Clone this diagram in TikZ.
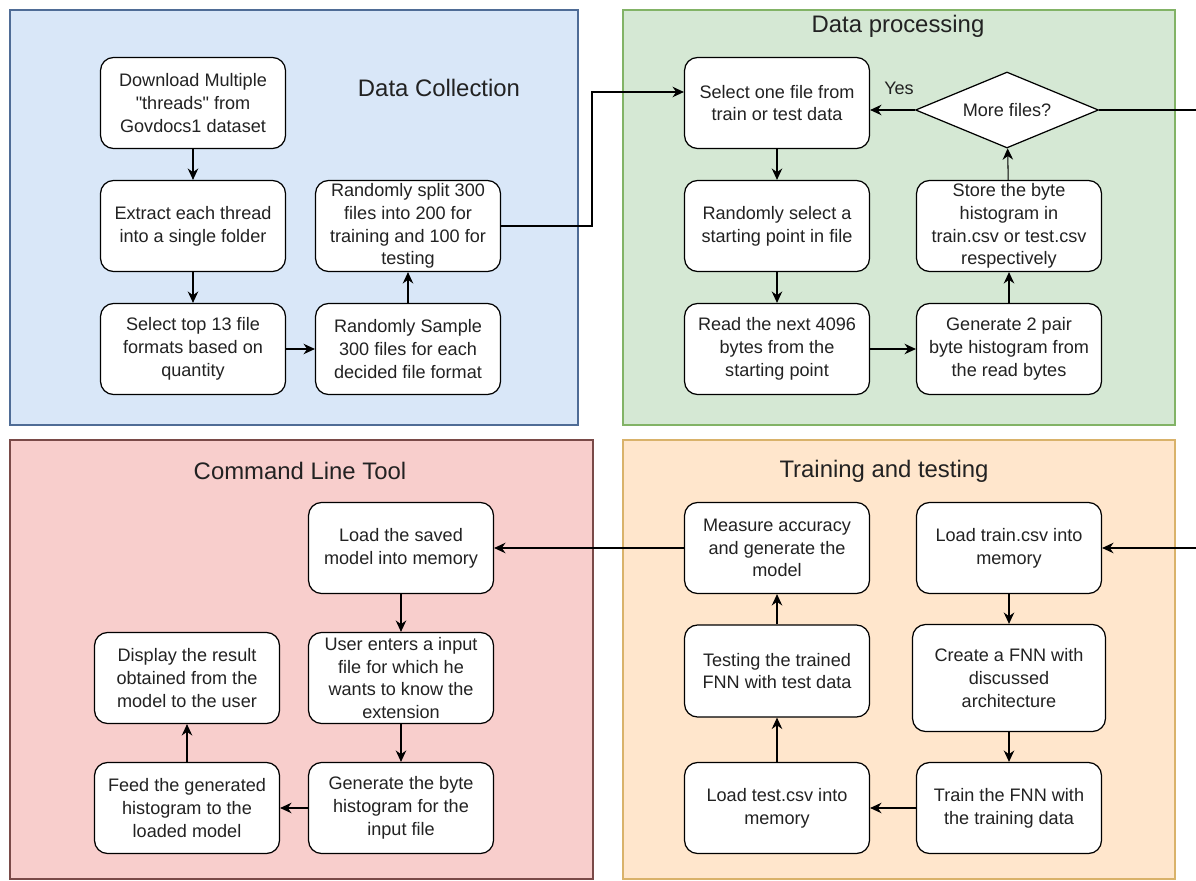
\documentclass[tikz,border=0pt]{standalone}
\usepackage{fontspec}
\setmainfont{Liberation Sans}
\usetikzlibrary{arrows.meta,shapes.geometric}

\definecolor{collectfill}{HTML}{D9E7F8}
\definecolor{collectline}{HTML}{4F6C96}
\definecolor{processfill}{HTML}{D5E8D4}
\definecolor{processline}{HTML}{82B366}
\definecolor{toolfill}{HTML}{F8CECC}
\definecolor{toolline}{HTML}{7A4A48}
\definecolor{trainfill}{HTML}{FFE6CC}
\definecolor{trainline}{HTML}{D9B26A}
\definecolor{inktext}{HTML}{222222}

\tikzset{
  stepbox/.style={draw, fill=white, rounded corners=0.26cm, line width=0.7pt,
    minimum width=3.7cm, minimum height=1.82cm, inner sep=1pt, align=center,
    text=inktext, font=\fontsize{10.3}{13}\selectfont},
  choice/.style={draw, fill=white, diamond, aspect=2.4, line width=0.7pt,
    minimum width=3.66cm, minimum height=1.52cm, inner sep=0pt,
    text=inktext, font=\fontsize{10.3}{13}\selectfont},
  panel/.style={line width=0.6pt},
  paneltitle/.style={text=inktext, font=\fontsize{13.6}{16}\selectfont},
  flow/.style={-{Stealth[length=6.5pt,width=6pt]}, line width=0.6pt},
}

\begin{document}
\begin{tikzpicture}[x=0.02cm,y=-0.02cm]
  \useasboundingbox (0,0) rectangle (1196,881);

  % the four stages
  \draw[panel, draw=collectline, fill=collectfill] (10,10) rectangle (578,425);
  \draw[panel, draw=processline, fill=processfill] (623,10) rectangle (1175,425);
  \draw[panel, draw=toolline, fill=toolfill] (10,440) rectangle (593,879);
  \draw[panel, draw=trainline, fill=trainfill] (623,440) rectangle (1175,879);

  \node[paneltitle] (collecttitle) at (439,88) {Data Collection};
  \node[paneltitle] (processtitle) at (898,26) {Data processing};
  \node[paneltitle] (tooltitle) at (300,471) {Command Line Tool};
  \node[paneltitle] (traintitle) at (884,471) {Training and testing};

  % data collection
  \node[stepbox] (dl) at (193,103) {Download Multiple\\\textquotedbl threads\textquotedbl{} from\\Govdocs1 dataset};
  \node[stepbox] (ext) at (193,226) {Extract each thread\\into a single folder};
  \node[stepbox] (sel) at (193,349) {Select top 13 file\\formats based on\\quantity};
  \node[stepbox] (samp) at (408,349) {Randomly Sample\\300 files for each\\decided file format};
  \node[stepbox] (split) at (408,226) {Randomly split 300\\files into 200 for\\training and 100 for\\testing};

  \draw[flow] (dl) -- (ext);
  \draw[flow] (ext) -- (sel);
  \draw[flow] (sel) -- (samp);
  \draw[flow] (samp) -- (split);

  % data processing
  \node[stepbox] (pick) at (777,103) {Select one file from\\train or test data};
  \node[stepbox] (rnd) at (777,226) {Randomly select a\\starting point in file};
  \node[stepbox] (rd) at (777,349) {Read the next 4096\\bytes from the\\starting point};
  \node[stepbox] (gen) at (1009,349) {Generate 2 pair\\byte histogram from\\the read bytes};
  \node[stepbox] (store) at (1009,226) {Store the byte\\histogram in\\train.csv or test.csv\\respectively};
  \node[choice] (more) at (1007,110) {More files?};
  \node[text=inktext, font=\fontsize{10.3}{13}\selectfont] (yes) at (899,88) {Yes};

  \coordinate (jog) at (592,92);
  \draw[flow] (split.east) -| (jog) -- (jog -| pick.west);
  \draw[flow] (pick) -- (rnd);
  \draw[flow] (rnd) -- (rd);
  \draw[flow] (rd) -- (gen);
  \draw[flow] (gen) -- (store);
  \draw[flow] (store) -- (more);
  \draw[flow] (more.west) -- (more.west -| pick.east);

  % training and testing
  \node[stepbox] (ltrain) at (1009,548) {Load train.csv into\\memory};
  \node[stepbox, minimum width=3.86cm, minimum height=2.14cm] (fnn) at (1009,678) {Create a FNN with\\discussed\\architecture};
  \node[stepbox] (train) at (1009,808) {Train the FNN with\\the training data};
  \node[stepbox] (ltest) at (777,808) {Load test.csv into\\memory};
  \node[stepbox, minimum height=1.84cm] (test) at (777,671) {Testing the trained\\FNN with test data};
  \node[stepbox] (meas) at (777,548) {Measure accuracy\\and generate the\\model};

  \coordinate (loopback) at (1215,110);
  \draw[flow] (more.east) -- (loopback) |- (ltrain.east);
  \draw[flow] (ltrain) -- (fnn);
  \draw[flow] (fnn) -- (train);
  \draw[flow] (train) -- (ltest);
  \draw[flow] (ltest) -- (test);
  \draw[flow] (test) -- (meas);

  % command line tool
  \node[stepbox] (load) at (401,548) {Load the saved\\model into memory};
  \node[stepbox] (user) at (401,678) {User enters a input\\file for which he\\wants to know the\\extension};
  \node[stepbox] (hist) at (401,808) {Generate the byte\\histogram for the\\input file};
  \node[stepbox] (feed) at (187,808) {Feed the generated\\histogram to the\\loaded model};
  \node[stepbox] (disp) at (187,678) {Display the result\\obtained from the\\model to the user};

  \draw[flow] (meas) -- (load);
  \draw[flow] (load) -- (user);
  \draw[flow] (user) -- (hist);
  \draw[flow] (hist) -- (feed);
  \draw[flow] (feed) -- (disp);
\end{tikzpicture}
\end{document}
